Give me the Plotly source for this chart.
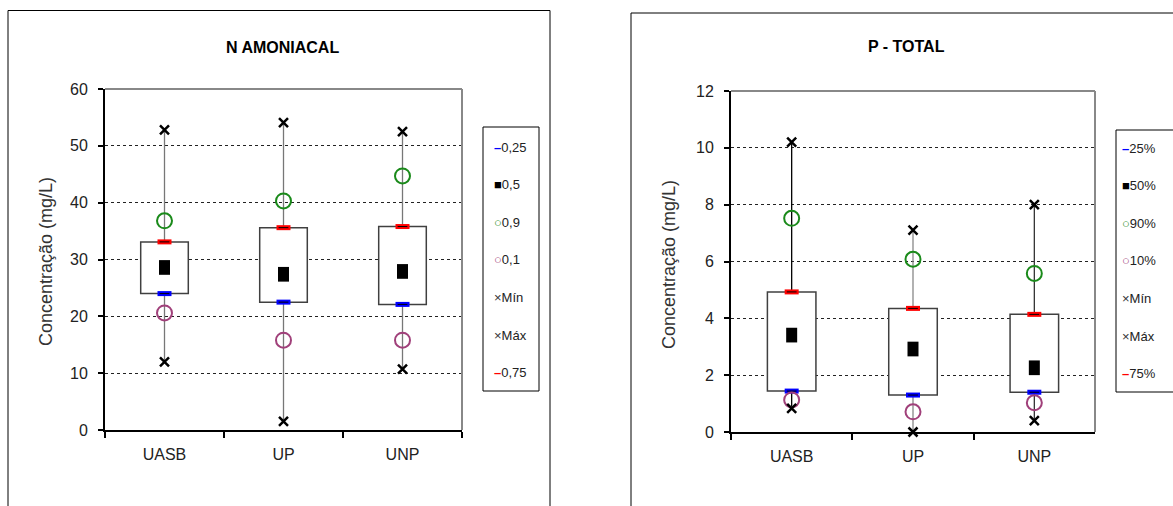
import plotly.graph_objects as go

categories = ["UASB", "UP", "UNP"]

# N AMONIACAL (mg/L)
n_q25 = [24.0, 22.5, 22.1]
n_q50 = [28.6, 27.4, 27.9]
n_q90 = [36.8, 40.3, 44.7]
n_q10 = [20.6, 15.8, 15.8]
n_min = [12.0, 1.5, 10.7]
n_max = [52.8, 54.1, 52.5]
n_q75 = [33.1, 35.6, 35.8]
n_labels = ["0,25", "0,5", "0,9", "0,1", "Mín", "Máx", "0,75"]

# P - TOTAL (mg/L)
p_q25 = [1.44, 1.30, 1.40]
p_q50 = [3.41, 2.92, 2.26]
p_q90 = [7.52, 6.08, 5.58]
p_q10 = [1.13, 0.71, 1.03]
p_min = [0.83, 0.0, 0.40]
p_max = [10.2, 7.1, 8.0]
p_q75 = [4.93, 4.35, 4.14]
p_labels = ["25%", "50%", "90%", "10%", "Mín", "Máx", "75%"]

W, H = 1173, 506
FONT = "Liberation Sans, Arial, sans-serif"

def px_x(p):
    return p / W

def px_y(p):
    return 1 - p / H

fig = go.Figure()

C_Q25, C_Q75 = "#0000ff", "#ff0000"
C_Q90, C_Q10 = "#1a8a1a", "#a0407a"


def add_panel(xr, yr, q25, q50, q90, q10, mn, mx, q75, labels, whisk_colors):
    # box (from 25% to 75%)
    fig.add_trace(go.Bar(
        x=categories, y=[b - a for a, b in zip(q25, q75)], base=q25, width=0.4,
        marker=dict(color="white", line=dict(color="#404040", width=1.5)),
        showlegend=False, hoverinfo="skip", xaxis=xr, yaxis=yr))
    # whiskers
    for i, c in enumerate(categories):
        fig.add_trace(go.Scatter(
            x=[c, c, None, c, c], y=[q75[i], mx[i], None, mn[i], q25[i]],
            mode="lines", line=dict(color=whisk_colors[i], width=1.3),
            showlegend=False, hoverinfo="skip", xaxis=xr, yaxis=yr))
    common = dict(mode="markers", showlegend=False, xaxis=xr, yaxis=yr, cliponaxis=False)
    fig.add_trace(go.Scatter(x=categories, y=q25, name=labels[0], marker=dict(symbol="line-ew", size=10, line=dict(color=C_Q25, width=5)), **common))
    fig.add_trace(go.Scatter(x=categories, y=q25, marker=dict(symbol="line-ew", size=7, line=dict(color="black", width=1)), hoverinfo="skip", **common))
    fig.add_trace(go.Scatter(x=categories, y=q75, name=labels[6], marker=dict(symbol="line-ew", size=10, line=dict(color=C_Q75, width=5)), **common))
    fig.add_trace(go.Scatter(x=categories, y=q75, marker=dict(symbol="line-ew", size=7, line=dict(color="black", width=1)), hoverinfo="skip", **common))
    fig.add_trace(go.Scatter(x=categories, y=q50, name=labels[1], marker=dict(symbol="line-ns", size=10.5, line=dict(color="black", width=11)), **common))
    fig.add_trace(go.Scatter(x=categories, y=q90, name=labels[2], marker=dict(symbol="circle-open", size=15, color=C_Q90, line=dict(width=2)), **common))
    fig.add_trace(go.Scatter(x=categories, y=q10, name=labels[3], marker=dict(symbol="circle-open", size=15, color=C_Q10, line=dict(width=2)), **common))
    fig.add_trace(go.Scatter(x=categories, y=mn, name=labels[4], marker=dict(symbol="x-thin", size=9, line=dict(color="black", width=2.5)), **common))
    fig.add_trace(go.Scatter(x=categories, y=mx, name=labels[5], marker=dict(symbol="x-thin", size=9, line=dict(color="black", width=2.5)), **common))


add_panel("x", "y", n_q25, n_q50, n_q90, n_q10, n_min, n_max, n_q75,
          n_labels, ["#777777", "#777777", "#777777"])
add_panel("x2", "y2", p_q25, p_q50, p_q90, p_q10, p_min, p_max, p_q75,
          p_labels, ["#000000", "#888888", "#333333"])

xcommon = dict(type="category", range=[-0.5, 2.5], tickson="boundaries", ticks="outside",
               ticklen=6, tickcolor="black", tickwidth=1.5, showline=True, linecolor="black",
               linewidth=2, showgrid=False, ticklabelstandoff=9, automargin=False,
               tickfont=dict(family=FONT, size=16, color="#222"))
ycommon = dict(ticks="outside", ticklen=5, tickcolor="black", tickwidth=1.5, showline=True,
               linecolor="black", linewidth=2, showgrid=True, gridcolor="#222222",
               griddash="dot", gridwidth=1, zeroline=False, ticklabelstandoff=7,
               automargin=False, tickfont=dict(family=FONT, size=16, color="#222"))

fig.update_layout(
    width=W, height=H, autosize=False,
    margin=dict(l=0, r=0, t=0, b=0, pad=0, autoexpand=False),
    paper_bgcolor="white", plot_bgcolor="white", barmode="overlay", showlegend=False,
    xaxis=dict(domain=[px_x(105), px_x(462)], anchor="y", **xcommon),
    yaxis=dict(domain=[px_y(430), px_y(89)], anchor="x", range=[0, 60], dtick=10, **ycommon),
    xaxis2=dict(domain=[px_x(731), px_x(1095)], anchor="y2", **xcommon),
    yaxis2=dict(domain=[px_y(432), px_y(91)], anchor="x2", range=[0, 12], dtick=2, **ycommon),
)


def open_frame(x0, x1, ytop, close_right=True):
    # frame drawn as open path (continues past bottom edge of the picture)
    xa, xb, yt = px_x(x0), px_x(x1), px_y(ytop)
    if close_right:
        path = f"M {xa},0 L {xa},{yt} L {xb},{yt} L {xb},0"
    else:
        path = f"M {xa},0 L {xa},{yt} L {xb},{yt}"
    return dict(type="path", xref="paper", yref="paper", path=path,
                line=dict(color="black", width=1))


shapes = [
    open_frame(8, 550, 10.5),
    open_frame(631, W, 13, close_right=False),
    # legend boxes
    dict(type="rect", xref="paper", yref="paper", x0=px_x(483), x1=px_x(539), y0=px_y(391), y1=px_y(127),
         line=dict(color="black", width=1), fillcolor="white"),
    dict(type="path", xref="paper", yref="paper",
         path=f"M 1,{px_y(130)} L {px_x(1116)},{px_y(130)} L {px_x(1116)},{px_y(392)} L 1,{px_y(392)}",
         line=dict(color="black", width=1)),
]
for xd, yd in (("x domain", "y domain"), ("x2 domain", "y2 domain")):
    shapes.append(dict(type="line", xref=xd, yref=yd, x0=0, x1=1, y0=1, y1=1,
                       line=dict(color="#888888", width=2)))
    shapes.append(dict(type="line", xref=xd, yref=yd, x0=1, x1=1, y0=0, y1=1,
                       line=dict(color="#888888", width=2)))
fig.update_layout(shapes=shapes)

annotations = [
    dict(text="<b>N AMONIACAL</b>", x=px_x(282), y=px_y(47), xref="paper", yref="paper",
         xanchor="center", yanchor="middle", showarrow=False,
         font=dict(family=FONT, size=16, color="black")),
    dict(text="<b>P - TOTAL</b>", x=px_x(907), y=px_y(46), xref="paper", yref="paper",
         xanchor="center", yanchor="middle", showarrow=False,
         font=dict(family=FONT, size=16, color="black")),
    dict(text="Concentração (mg/L)", x=px_x(46), y=px_y(262), xref="paper", yref="paper",
         xanchor="center", yanchor="middle",
         textangle=-90, showarrow=False, font=dict(family=FONT, size=18, color="#333")),
    dict(text="Concentração (mg/L)", x=px_x(669), y=px_y(265), xref="paper", yref="paper",
         xanchor="center", yanchor="middle",
         textangle=-90, showarrow=False, font=dict(family=FONT, size=18, color="#333")),
]

# legend entries (symbol glyph + label)
leg_symbols = [
    ("<b>–</b>", C_Q25), ("■", "black"), ("○", C_Q90), ("○", C_Q10),
    ("×", "#333333"), ("×", "#333333"), ("<b>–</b>", C_Q75),
]
for labels, x0, y0 in ((n_labels, 492, 147), (p_labels, 1120, 148)):
    for k, (lab, (sym, col)) in enumerate(zip(labels, leg_symbols)):
        annotations.append(dict(
            text=f'<span style="color:{col}">{sym}</span>{lab}',
            x=px_x(x0), y=px_y(y0 + 37.6 * k), xref="paper", yref="paper",
            xanchor="left", yanchor="middle", showarrow=False,
            font=dict(family=FONT, size=13, color="#222")))
fig.update_layout(annotations=annotations)

fig.write_html("out.html", config={"displayModeBar": False},
               post_script="document.body.style.margin='0';")
